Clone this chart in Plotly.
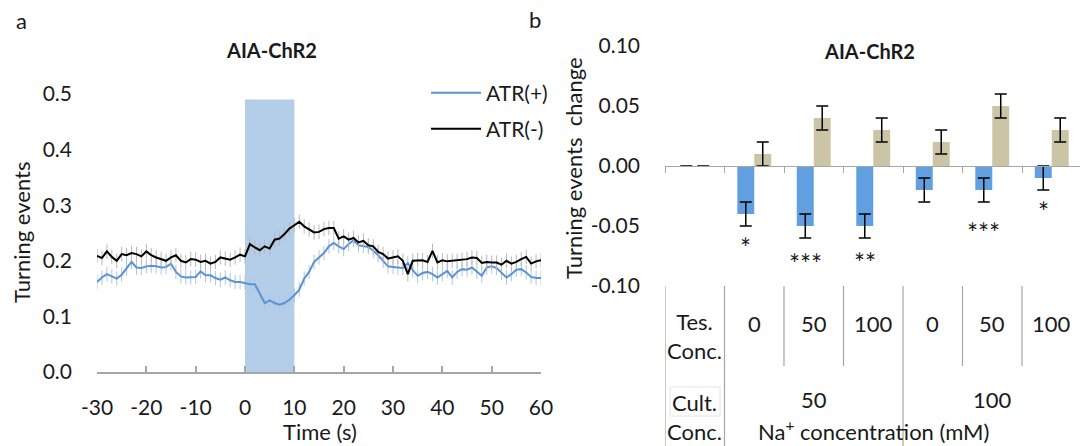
import plotly.graph_objects as go

# ---------------- data ----------------
time_s = list(range(-30, 61))

atr_pos = [0.162, 0.170, 0.176, 0.172, 0.168, 0.175, 0.186, 0.198, 0.188, 0.187,
           0.190, 0.191, 0.190, 0.188, 0.189, 0.195, 0.180, 0.172, 0.170, 0.170,
           0.171, 0.181, 0.174, 0.174, 0.169, 0.166, 0.170, 0.165, 0.162, 0.162,
           0.160, 0.158, 0.158, 0.140, 0.124, 0.129, 0.124, 0.121, 0.124, 0.130,
           0.138, 0.148, 0.168, 0.180, 0.198, 0.206, 0.214, 0.226, 0.232, 0.226,
           0.221, 0.230, 0.237, 0.228, 0.227, 0.225, 0.218, 0.210, 0.200, 0.190,
           0.189, 0.188, 0.187, 0.196, 0.183, 0.173, 0.178, 0.180, 0.176, 0.170,
           0.176, 0.182, 0.170, 0.180, 0.185, 0.184, 0.188, 0.180, 0.173, 0.188,
           0.190, 0.187, 0.178, 0.170, 0.176, 0.184, 0.185, 0.179, 0.171, 0.169,
           0.169]

atr_neg = [0.209, 0.205, 0.217, 0.207, 0.200, 0.212, 0.210, 0.214, 0.212, 0.208,
           0.217, 0.210, 0.206, 0.203, 0.200, 0.206, 0.210, 0.200, 0.197, 0.203,
           0.202, 0.198, 0.200, 0.195, 0.198, 0.206, 0.204, 0.202, 0.206, 0.211,
           0.208, 0.230, 0.224, 0.219, 0.226, 0.222, 0.238, 0.240, 0.248, 0.258,
           0.264, 0.270, 0.262, 0.256, 0.251, 0.252, 0.257, 0.259, 0.259, 0.240,
           0.244, 0.238, 0.241, 0.233, 0.236, 0.228, 0.226, 0.216, 0.212, 0.204,
           0.206, 0.208, 0.200, 0.176, 0.200, 0.201, 0.201, 0.198, 0.218, 0.197,
           0.201, 0.199, 0.200, 0.200, 0.202, 0.203, 0.206, 0.205, 0.196, 0.198,
           0.197, 0.197, 0.193, 0.200, 0.195, 0.198, 0.203, 0.207, 0.195, 0.199,
           0.201]

atr_pos_sem = 0.013
atr_neg_sem = 0.013

stim_window = [0, 10]
stim_top = 0.49

left_xticks = [-30, -20, -10, 0, 10, 20, 30, 40, 50, 60]
left_xticklabels = ["-30", "-20", "-10", "0", "10", "20", "30", "40", "50", "60"]
left_yticks = [0.0, 0.1, 0.2, 0.3, 0.4, 0.5]
left_yticklabels = ["0.0", "0.1", "0.2", "0.3", "0.4", "0.5"]

# panel b: category 0 is the label column of the table
cat_index = [0, 1, 2, 3, 4, 5, 6]
test_conc = ["", "0", "50", "100", "0", "50", "100"]
culture_conc = ["50", "100"]
culture_cat = [2, 5]
atr_pos_change = [0.0, -0.04, -0.05, -0.05, -0.02, -0.02, -0.01]
atr_pos_change_err = [None, 0.01, 0.01, 0.01, 0.01, 0.01, 0.01]
atr_neg_change = [0.0, 0.01, 0.04, 0.03, 0.02, 0.05, 0.03]
atr_neg_change_err = [None, 0.01, 0.01, 0.01, 0.01, 0.01, 0.01]
significance = ["", "*", "***", "**", "", "***", "*"]
significance_y = [None, -0.063, -0.077, -0.076, None, -0.051, -0.033]

right_yticks = [-0.10, -0.05, 0.0, 0.05, 0.10]
right_yticklabels = ["-0.10", "-0.05", "0.00", "0.05", "0.10"]

# ---------------- styling / layout ----------------
W, H = 1080, 446
FONT = "Lato"
TXT = "#1a1a1a"
AX = "#a6a6a6"
BLUE_LINE = "#5b93d3"
BLUE_BAR = "#619fe0"
TAN_BAR = "#cbc5a6"


def fx(p):
    return p / W


def fy(p):
    return 1 - p / H


L_dom_x = [fx(97), fx(541)]
L_dom_y = [fy(372), fy(94)]
R_dom_x = [fx(665), 1.0]
R_dom_y = [fy(286), fy(46)]
cat_px = 59.5
R_range = [-0.5, -0.5 + (W - 665) / cat_px]

fig = go.Figure()

fig.add_trace(go.Scatter(
    x=time_s, y=atr_pos, mode="lines", name="ATR(+)",
    line=dict(color=BLUE_LINE, width=2),
    error_y=dict(type="constant", value=atr_pos_sem, color="#aec6e6", thickness=1, width=0),
    xaxis="x", yaxis="y", legend="legend"))
fig.add_trace(go.Scatter(
    x=time_s, y=atr_neg, mode="lines", name="ATR(-)",
    line=dict(color="#000000", width=2),
    error_y=dict(type="constant", value=atr_neg_sem, color="#b8b8b8", thickness=1, width=0),
    xaxis="x", yaxis="y", legend="legend2"))

fig.add_trace(go.Bar(
    x=cat_index, y=atr_pos_change, marker=dict(color=BLUE_BAR, line=dict(width=0)),
    error_y=dict(type="data", array=atr_pos_change_err, color="#000000", thickness=1.5, width=6),
    xaxis="x2", yaxis="y2", showlegend=False))
fig.add_trace(go.Bar(
    x=cat_index, y=atr_neg_change, marker=dict(color=TAN_BAR, line=dict(width=0)),
    error_y=dict(type="data", array=atr_neg_change_err, color="#000000", thickness=1.5, width=6),
    xaxis="x2", yaxis="y2", showlegend=False))

shapes = []
# stimulation window
shapes.append(dict(type="rect", xref="x", yref="y", x0=stim_window[0], x1=stim_window[1],
                   y0=0, y1=stim_top, fillcolor="#b4cde9", line=dict(width=0), layer="below"))

# table separators under panel b
bottom_plot = R_dom_y[0]
long_lines = [-0.5, 0.5, 3.5]
short_lines = [1.5, 2.5, 4.5, 5.5]
for b in long_lines:
    shapes.append(dict(type="line", xref="x2", yref="paper", x0=b, x1=b,
                       y0=bottom_plot, y1=0, line=dict(color=AX, width=1.2)))
for b in short_lines:
    shapes.append(dict(type="line", xref="x2", yref="paper", x0=b, x1=b,
                       y0=bottom_plot, y1=fy(366), line=dict(color=AX, width=1.2)))
# faint box around "Cult."
shapes.append(dict(type="rect", xref="paper", yref="paper", x0=fx(670), x1=fx(720),
                   y0=fy(416), y1=fy(387), line=dict(color="#e4e4e4", width=1)))


def note(text, x, y, xref="paper", yref="paper", size=22, angle=0, **kw):
    return dict(text=text, x=x, y=y, xref=xref, yref=yref, showarrow=False,
                xanchor="center", yanchor="middle", textangle=angle,
                font=dict(family=FONT, size=size, color=TXT), **kw)


ann = []
ann.append(note("a", fx(21), fy(20)))
ann.append(note("b", fx(535), fy(19)))
ann.append(note("<b>AIA-ChR2</b>", fx(271), fy(50), size=20))
ann.append(note("<b>AIA-ChR2</b>", fx(869), fy(51), size=20))
ann.append(note("Turning events", fx(22), (L_dom_y[0] + L_dom_y[1]) / 2, angle=-90))
ann.append(note("Time (s)", fx(320), fy(431)))
ann.append(note("Turning events  change", fx(573), fy(168), angle=-90))

# significance stars (over blue bars)
for c, s, sy in zip(cat_index, significance, significance_y):
    if s:
        ann.append(note(s, c, sy, xref="x2", yref="y2", size=26, xshift=-8.5, yshift=-6))

# table text
ann.append(note("Tes.<br>Conc.", 0, fy(336), xref="x2"))
for c, t in zip(cat_index, test_conc):
    if t:
        ann.append(note(t, c, fy(323), xref="x2"))
ann.append(note("Cult.<br>Conc.", 0, fy(417), xref="x2"))
for c, t in zip(culture_cat, culture_conc):
    ann.append(note(t, c, fy(399), xref="x2"))
ann.append(note("Na<sup>+</sup> concentration (mM)", 3, fy(430), xref="x2"))

# positions of the crossing axes
left_yline_pos = L_dom_x[0] + (0 - (-30)) / 90 * (L_dom_x[1] - L_dom_x[0])
right_yline_pos = R_dom_x[0] + (0.5 - R_range[0]) / (R_range[1] - R_range[0]) * (R_dom_x[1] - R_dom_x[0])
right_xline_pos = R_dom_y[0] + (0 - (-0.1)) / 0.2 * (R_dom_y[1] - R_dom_y[0])

fig.update_layout(
    template="none",
    width=W, height=H, margin=dict(l=0, r=0, t=0, b=0, pad=0, autoexpand=False),
    paper_bgcolor="white", plot_bgcolor="rgba(0,0,0,0)",
    font=dict(family=FONT, color=TXT, size=21),
    barmode="group", bargap=0.43, bargroupgap=0,
    shapes=shapes, annotations=ann,
    xaxis=dict(domain=L_dom_x, range=[-30, 60], anchor="y", automargin=False,
               tickmode="array", tickvals=left_xticks, ticktext=left_xticklabels,
               ticks="inside", ticklen=6, tickcolor=AX, tickwidth=1.5,
               showline=True, linecolor=AX, linewidth=1.5,
               showgrid=False, zeroline=False, ticklabelstandoff=16,
               tickfont=dict(size=21, color=TXT)),
    yaxis=dict(domain=L_dom_y, range=[0, 0.5], anchor="x", automargin=False,
               tickmode="array", tickvals=left_yticks, ticktext=left_yticklabels,
               ticks="", showline=False, showgrid=False, zeroline=False,
               ticklabelstandoff=24, tickfont=dict(size=21, color=TXT)),
    yaxis3=dict(overlaying="y", anchor="free", position=left_yline_pos, range=[0, 0.5],
                automargin=False,
                tickmode="array", tickvals=left_yticks, showticklabels=False,
                ticks="outside", ticklen=5, tickcolor=AX, tickwidth=1.5,
                showline=True, linecolor=AX, linewidth=2.5,
                showgrid=False, zeroline=False),
    xaxis2=dict(domain=R_dom_x, range=R_range, anchor="free", position=right_xline_pos,
                automargin=False,
                tickmode="array", tickvals=[-0.5, 0.5, 1.5, 2.5, 3.5, 4.5, 5.5, 6.5],
                showticklabels=False, ticks="outside", ticklen=6, tickcolor=AX, tickwidth=1.2,
                showline=True, linecolor=AX, linewidth=1.2,
                showgrid=False, zeroline=False),
    yaxis2=dict(domain=R_dom_y, range=[-0.1, 0.1], anchor="x2", automargin=False,
                tickmode="array", tickvals=right_yticks, ticktext=right_yticklabels,
                ticks="", showline=False, showgrid=False, zeroline=False,
                ticklabelstandoff=24, tickfont=dict(size=21, color=TXT)),
    yaxis4=dict(overlaying="y2", anchor="free", position=right_yline_pos, range=[-0.1, 0.1],
                automargin=False,
                tickmode="array", tickvals=right_yticks, showticklabels=False,
                ticks="outside", ticklen=5, tickcolor=AX, tickwidth=1.2,
                showline=True, linecolor=AX, linewidth=1.2,
                showgrid=False, zeroline=False),
    legend=dict(x=fx(426), y=fy(93), xanchor="left", yanchor="middle",
                bgcolor="rgba(0,0,0,0)", font=dict(size=21, color=TXT), itemwidth=50),
    legend2=dict(x=fx(426), y=fy(129), xanchor="left", yanchor="middle",
                 bgcolor="rgba(0,0,0,0)", font=dict(size=21, color=TXT), itemwidth=50),
)

fig.write_html("out.html")
